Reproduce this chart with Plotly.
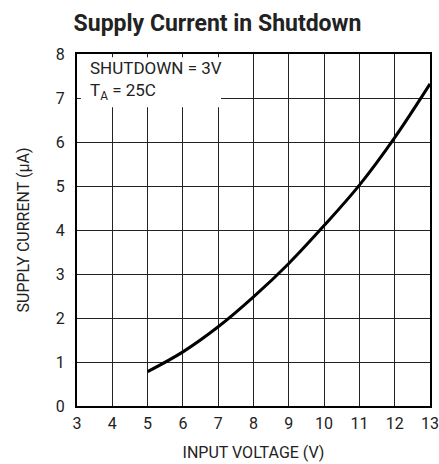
import plotly.graph_objects as go

# Data
input_voltage = [5, 6, 7, 8, 9, 10, 11, 12, 13]
supply_current = [0.78, 1.23, 1.80, 2.48, 3.24, 4.10, 5.02, 6.10, 7.32]

x_ticks = [3, 4, 5, 6, 7, 8, 9, 10, 11, 12, 13]
y_ticks = [0, 1, 2, 3, 4, 5, 6, 7, 8]

FONT = "Roboto, sans-serif"

FIG_W, FIG_H = 439, 464

fig = go.Figure()
fig.add_trace(go.Scatter(
    x=input_voltage, y=supply_current, mode="lines",
    line=dict(color="black", width=3, shape="spline"),
    hoverinfo="skip", showlegend=False,
))

fig.add_shape(type="rect", xref="paper", yref="paper",
              x0=0.011, x1=0.408, y0=0.849, y1=0.991,
              fillcolor="white", line=dict(width=0), layer="above")

fig.add_annotation(
    xref="paper", yref="paper", x=0.031, y=0.994,
    xanchor="left", yanchor="top", align="left", showarrow=False,
    text="SHUTDOWN = 3V<br>T<sub>A</sub> = 25C",
    font=dict(family=FONT, size=17, color="#222"),
)

fig.update_layout(
    width=FIG_W, height=FIG_H,
    margin=dict(l=77, r=9, t=54, b=58, autoexpand=False),
    paper_bgcolor="white", plot_bgcolor="white",
    title=dict(text="<b>Supply Current in Shutdown</b>",
               x=217.5 / FIG_W, xref="container", xanchor="center",
               y=1 - 23 / FIG_H, yref="container", yanchor="middle",
               font=dict(family=FONT, size=23, color="#222"),
               automargin=False),
    font=dict(family=FONT, color="#222"),
)

fig.update_xaxes(
    range=[3, 13], tickvals=x_ticks, ticktext=[str(v) for v in x_ticks],
    showgrid=True, gridcolor="#222", gridwidth=1,
    showline=True, linecolor="black", linewidth=2, mirror=True,
    ticks="", ticklabelstandoff=2, ticklabeloverflow="allow",
    zeroline=False, automargin=False,
    tickfont=dict(family=FONT, size=16, color="#222"),
    title=dict(text="INPUT VOLTAGE (V)", standoff=15,
               font=dict(family=FONT, size=16, color="#222")),
)
fig.update_yaxes(
    range=[0, 8], tickvals=y_ticks, ticktext=[str(v) for v in y_ticks],
    showgrid=True, gridcolor="#222", gridwidth=1,
    showline=True, linecolor="black", linewidth=2, mirror=True,
    ticks="", ticklabelstandoff=7, ticklabeloverflow="allow",
    zeroline=False, automargin=False,
    tickfont=dict(family=FONT, size=16, color="#222"),
    title=dict(text="SUPPLY CURRENT (µA)", standoff=22,
               font=dict(family=FONT, size=16, color="#222")),
)

fig.write_html(
    "out.html",
    config={"displayModeBar": False, "staticPlot": True},
    post_script="document.body.style.margin='0';document.body.style.overflow='hidden';",
)
